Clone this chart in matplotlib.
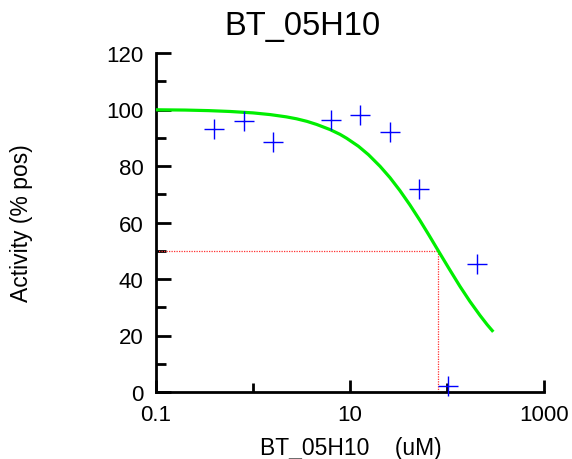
import matplotlib
matplotlib.use("Agg")
import matplotlib.pyplot as plt
from matplotlib.ticker import FixedLocator, NullFormatter

plt.rcParams['font.family'] = ['Liberation Sans', 'DejaVu Sans']

# Data
conc = [0.4, 0.8, 1.6, 6.4, 12.8, 25.6, 51.2, 102.4, 204.8]
activity = [93.1, 95.8, 88.5, 96.4, 98.2, 92.2, 72.0, 2.2, 45.2]

# Fitted curve samples
curve_x = [0.1, 0.2, 0.35, 0.58, 1.0, 1.5, 2.2, 2.82, 3.6, 4.54, 6.22, 7.89, 9.25,
           12.2, 15.5, 20.4, 25.8, 32.7, 41.5, 52.7, 65.5, 81.3, 104, 136, 172, 219, 260, 300]
curve_y = [99.9, 99.8, 99.6, 99.3, 98.8, 98.2, 97.4, 96.7, 95.8, 94.7, 92.9, 91.2, 89.8,
           87.0, 84.0, 79.9, 75.9, 71.3, 66.2, 60.7, 55.4, 50.0, 43.9, 37.4, 32.1, 27.1, 23.8, 21.3]

ic50 = 81.3
half = 50.0

title = "BT_05H10"
xlabel = "BT_05H10    (uM)"
ylabel = "Activity (% pos)"
xtick_major = [0.1, 10, 1000]
xtick_major_labels = ["0.1", "10", "1000"]
xtick_minor = [1, 100]
ytick_major = [0, 20, 40, 60, 80, 100, 120]
ytick_minor = [10, 30, 50, 70, 90, 110]

W, H = 572, 460
fig = plt.figure(figsize=(W / 100, H / 100), dpi=100)
ax = fig.add_axes([156 / W, 1 - 393 / H, (544 - 156) / W, (393 - 54) / H])

ax.set_xscale('log')
ax.set_xlim(0.1, 1000)
ax.set_ylim(0, 120)

# IC50 guide lines
ax.plot([0.1, ic50], [half, half], color='#ff3030', lw=0.9, linestyle=(0, (1, 1)), zorder=2)
ax.plot([ic50, ic50], [0, half], color='#ff3030', lw=0.9, linestyle=(0, (1, 1)), zorder=2)

ax.plot(curve_x, curve_y, color='#00ee00', lw=2.3, zorder=3,
        solid_capstyle='butt', solid_joinstyle='round')
ax.plot(conc, activity, linestyle='none', marker='+', color='#0000ff',
        markersize=14, markeredgewidth=1.0, zorder=4, clip_on=False)

for s in ['top', 'right']:
    ax.spines[s].set_visible(False)
for s in ['left', 'bottom']:
    ax.spines[s].set_linewidth(2.0)
    ax.spines[s].set_color('black')

ax.xaxis.set_major_locator(FixedLocator(xtick_major))
ax.set_xticklabels(xtick_major_labels)
ax.xaxis.set_minor_locator(FixedLocator(xtick_minor))
ax.xaxis.set_minor_formatter(NullFormatter())
ax.yaxis.set_major_locator(FixedLocator(ytick_major))
ax.yaxis.set_minor_locator(FixedLocator(ytick_minor))

ax.tick_params(axis='x', which='major', direction='in', length=9, width=2, labelsize=16, pad=9)
ax.tick_params(axis='x', which='minor', direction='in', length=6.5, width=2)
ax.tick_params(axis='y', which='major', direction='in', length=10.5, width=2, labelsize=16, pad=9)
ax.tick_params(axis='y', which='minor', direction='in', length=7.5, width=2)

fig.text(351 / W, 1 - 455 / H, xlabel, fontsize=16.5, ha='center', va='baseline')
fig.text(33 / W, 1 - 223.5 / H, ylabel, fontsize=16.5, rotation=90, ha='right', va='center')
fig.text(302 / W, 1 - 35 / H, title, fontsize=23.5, ha='center', va='baseline')

fig.savefig('out.png', dpi=100)
